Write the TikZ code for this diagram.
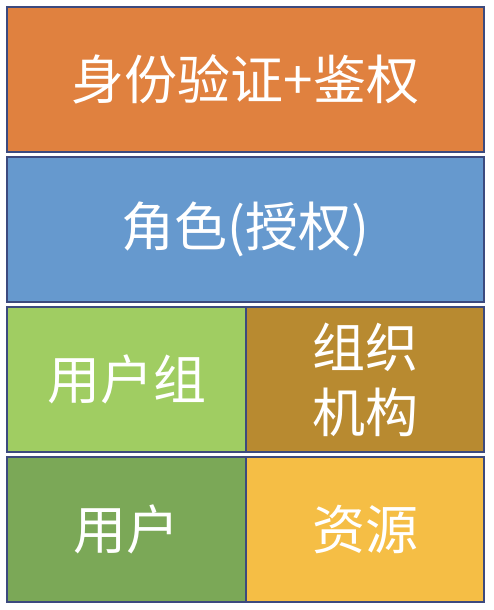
\documentclass[tikz,border=0pt]{standalone}
\usepackage{fontspec}
\newfontfamily\cjk{Noto Sans CJK SC}
\definecolor{bordc}{HTML}{3C4A7E}
\definecolor{c1}{HTML}{E0813F}
\definecolor{c2}{HTML}{6699CE}
\definecolor{c3}{HTML}{A0CD62}
\definecolor{c4}{HTML}{B88A30}
\definecolor{c5}{HTML}{7BA857}
\definecolor{c6}{HTML}{F5BE45}
\tikzset{
  blk/.style={draw=bordc, line width=2pt, rectangle, inner sep=0pt, outer sep=0pt, anchor=north west,
    text=white, font=\cjk\fontsize{53}{65}\selectfont, align=center},
}
\begin{document}
\begin{tikzpicture}[x=1pt,y=-1pt]
\useasboundingbox (0,0) rectangle (494,610);
\fill[white] (0,0) rectangle (494,610);
\node[blk, fill=c1, minimum width=477pt, minimum height=145pt] (auth) at (7,7) {身份验证+鉴权};
\node[blk, fill=c2, minimum width=477pt, minimum height=145pt] (role) at (7,157) {角色(授权)};
\node[blk, fill=c3, minimum width=239pt, minimum height=145pt] (group) at (7,307) {用户组};
\node[blk, fill=c4, minimum width=238pt, minimum height=145pt] (org) at (246,307) {组织\\机构};
\node[blk, fill=c5, minimum width=239pt, minimum height=145pt] (user) at (7,457) {用户};
\node[blk, fill=c6, minimum width=238pt, minimum height=145pt] (res) at (246,457) {资源};
\end{tikzpicture}
\end{document}
